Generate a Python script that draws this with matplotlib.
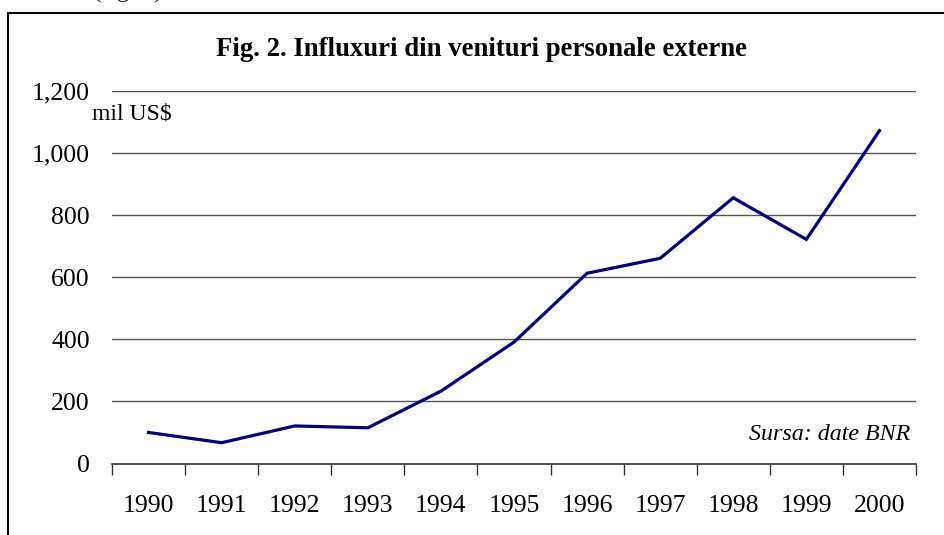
import matplotlib
matplotlib.use("Agg")
import matplotlib.pyplot as plt
from matplotlib.ticker import FixedLocator, FuncFormatter
from matplotlib.patches import Rectangle
import numpy as np

years = ["1990", "1991", "1992", "1993", "1994", "1995", "1996", "1997", "1998", "1999", "2000"]
inflows = [100, 67, 121, 115, 233, 391, 613, 661, 856, 722, 1072]
yticks = [0, 200, 400, 600, 800, 1000, 1200]

plt.rcParams['font.family'] = ['Liberation Serif', 'DejaVu Serif']

fig = plt.figure(figsize=(9.45, 5.35), dpi=100)
W, H = 945, 535
ax = fig.add_axes([112 / W, 1 - 463.5 / H, (916 - 112) / W, (463.5 - 91) / H])

x = np.arange(len(years))
ax.plot(x, inflows, color='#000080', lw=2.3, solid_joinstyle='miter', zorder=3)

ax.set_xlim(-0.5, len(years) - 0.5)
ax.set_ylim(0, 1200)

ax.set_yticks(yticks)
ax.yaxis.set_major_formatter(FuncFormatter(lambda v, p: f"{int(v):,}"))
ax.tick_params(axis='y', length=0, pad=16, labelsize=18.5)
ax.grid(axis='y', color='#555555', lw=1.0, zorder=1)

ax.set_xticks(x)
ax.set_xticklabels(years)
ax.tick_params(axis='x', which='major', length=0, pad=23, labelsize=18.5)
ax.xaxis.set_minor_locator(FixedLocator(np.arange(-0.5, len(years), 1.0)))
ax.tick_params(axis='x', which='minor', length=8, width=1, color='#333333', direction='out')

for s in ['left', 'right', 'top']:
    ax.spines[s].set_visible(False)
ax.spines['bottom'].set_color('#333333')
ax.spines['bottom'].set_linewidth(1.2)
ax.set_axisbelow(True)

fig.text(482 / W, 1 - 49 / H, "Fig. 2. Influxuri din venituri personale externe",
         ha='center', va='center', fontsize=19.3, fontweight='bold')
fig.text(92 / W, 1 - 114 / H, "mil US$", ha='left', va='center', fontsize=17)
fig.text(910 / W, 1 - 434 / H, "Sursa: date BNR", ha='right', va='center',
         fontsize=17.3, style='italic')
fig.text(128 / W, 1 + 9 / H, "(fig. 2)", ha='center', va='center', fontsize=18, color='#222222')

fig.add_artist(Rectangle((8.5 / W, -0.1), 1.2, 1 - 13 / H + 0.1, transform=fig.transFigure,
                         fill=False, edgecolor='black', lw=1.5))

fig.savefig("out.png", dpi=100)
